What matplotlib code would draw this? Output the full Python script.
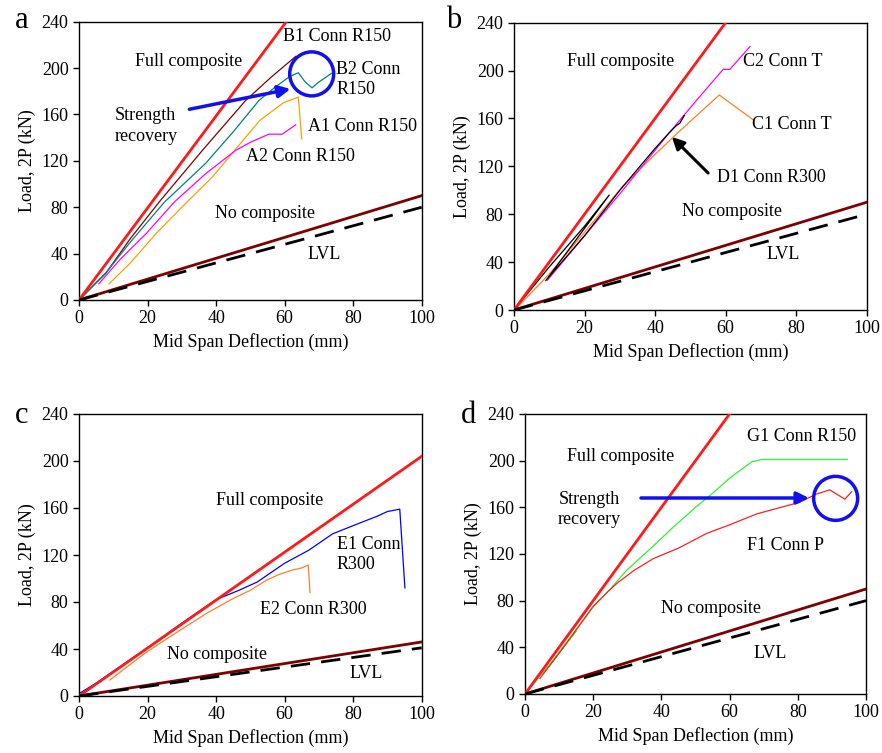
import matplotlib
matplotlib.use("Agg")
import matplotlib.pyplot as plt
from matplotlib.patches import Ellipse

plt.rcParams['font.family'] = ['Liberation Serif', 'DejaVu Serif']
plt.rcParams['font.size'] = 13

# reference lines: (x end, load at x end)
full_a = ([0, 60.5], [0, 240])
full_b = ([0, 60], [0, 240])
full_c = ([0, 100], [0, 204])
full_d = ([0, 60], [0, 240])
nocomp_abd = ([0, 100], [0, 90])
lvl_abd = ([0, 100], [0, 80])
nocomp_c = ([0, 100], [0, 46])
lvl_c = ([0, 100], [0, 41])

# panel a
a1_x = [8.8, 15, 22.4, 30, 38.9, 45.7, 52.8, 59.6, 64, 65]
a1_y = [14, 32, 57, 80, 106, 130, 155, 170, 175, 139]
a2_x = [5.8, 12, 19.5, 28, 37, 45.7, 50, 55.4, 59.3, 63.2]
a2_y = [14, 35, 57, 85, 109, 129, 136, 143, 143, 151]
b1_x = [1, 7.8, 15, 23.8, 36, 48.6, 56, 63.2]
b1_y = [3, 23, 53, 86, 129, 172, 192, 210]
b2_x = [1, 8, 15, 24.8, 37, 45, 52.5, 57, 61.4, 64, 66, 68, 70, 72, 73.7]
b2_y = [3, 24, 50, 84, 118, 145, 172, 183, 192.6, 196, 188, 183, 188, 192, 195.5]

# panel b
c1_x = [0.5, 10, 20, 31, 40, 46.8, 52, 58.2, 67.9]
c1_y = [1, 30, 65, 104, 130, 149, 163, 179.6, 158.7]
c2_x = [9.5, 20, 30, 44, 52, 59.3, 61.2, 66.9]
c2_y = [25, 62, 97, 148, 176, 201, 201, 220]
d1_x = [0, 10, 20, 27, 9, 20, 30, 40, 44, 46, 47, 48.3]
d1_y = [0, 36, 70, 96, 24.5, 62, 100, 135, 148, 154, 156, 162.5]

# panel c
e1_x = [0, 5, 10, 15, 20, 30, 40, 46.7, 52, 60, 67, 74, 80, 87, 90, 93.6, 95.1]
e1_y = [2, 11, 21, 31, 41, 62, 82, 90, 97, 113, 124, 138, 145, 153, 157, 159, 92]
e2_x = [9, 15, 20, 29.5, 37, 45, 50, 54.8, 58, 62, 65, 66.9, 67.4]
e2_y = [13.6, 27, 38, 56, 70, 83, 90, 98.7, 103, 107, 109, 111.5, 88]

# panel d
g1_x = [0, 8, 15, 5.4, 10, 15, 20, 25, 29.8, 36.2, 43.5, 50, 55, 60, 66.5, 69.4, 94.5]
g1_y = [0, 28, 54, 17.7, 35, 55, 75, 90, 106, 123, 143, 160, 172, 185, 199, 201, 201]
f1_x = [4.4, 10, 15, 20, 24.4, 27, 32, 37.6, 45, 53.3, 60, 67.9, 75, 80.2, 85.5, 89.4, 91, 93.8, 95.8]
f1_y = [13.4, 35, 55, 75, 88, 95, 106, 116, 125, 137.7, 145, 154.3, 160, 164, 171.4, 175, 172, 167, 173.4]

W, H = 882, 753
fig = plt.figure(figsize=(W / 100, H / 100), dpi=100)


def make_axes(x0, x1, ytop, ybot):
    ax = fig.add_axes([x0 / W, 1 - ybot / H, (x1 - x0) / W, (ybot - ytop) / H])
    ax.set_xlim(0, 100)
    ax.set_ylim(0, 240)
    ax.set_xticks(range(0, 101, 20))
    ax.set_yticks(range(0, 241, 40))
    ax.tick_params(direction='out', length=4, width=1, labelsize=13)
    for s in ax.spines.values():
        s.set_linewidth(1)
    ax.set_xlabel('Mid Span Deflection (mm)', fontsize=13)
    ax.set_ylabel('Load, 2P (kN)', fontsize=13)
    return ax


def ref_lines(ax, full, nocomp, lvl):
    ax.plot(*full, color='#FF1A1A', lw=2, zorder=3)
    ax.plot(*nocomp, color='#7F0000', lw=2, zorder=3)
    ax.plot(*lvl, color='black', lw=2, dashes=(7, 4), zorder=3)


def circle(ax, xc, yc, rpx=22):
    bb = ax.get_position()
    w = 2 * rpx / (bb.width * W) * 100
    h = 2 * rpx / (bb.height * H) * 240
    ax.add_patch(Ellipse((xc, yc), w, h, fill=False, ec='#1010F0', lw=2.5, zorder=5))


ax_a = make_axes(79, 421.7, 21.7, 300)
ax_b = make_axes(514, 866.7, 22.7, 310)
ax_c = make_axes(79, 421.7, 414, 696)
ax_d = make_axes(525, 866, 414, 694)

# --- a
ax = ax_a
ref_lines(ax, full_a, nocomp_abd, lvl_abd)
ax.plot(a1_x, a1_y, color='#FFA000', lw=0.9)
ax.plot(a2_x, a2_y, color='#FF00FF', lw=0.9)
ax.plot(b1_x, b1_y, color='#800000', lw=0.9)
ax.plot(b2_x, b2_y, color='#008080', lw=0.9)
circle(ax, 67.9, 195)
ax.annotate('', xy=(62.5, 182.5), xytext=(31.4, 164),
            arrowprops=dict(arrowstyle='-|>', color='#1010F0', lw=2.5, mutation_scale=18))
ax.text(31.9, 206, 'Full composite', ha='center', va='center')
ax.text(59.6, 227, 'B1 Conn R150', ha='left', va='center')
ax.text(75, 190, 'B2 Conn\nR150', ha='left', va='center', linespacing=1.25)
ax.text(19.5, 150, 'Strength\nrecovery', ha='center', va='center', linespacing=1.25)
ax.text(66.9, 150, 'A1 Conn R150', ha='left', va='center')
ax.text(48.6, 124, 'A2 Conn R150', ha='left', va='center')
ax.text(54.3, 75, 'No composite', ha='center', va='center')
ax.text(71.6, 39, 'LVL', ha='center', va='center')

# --- b
ax = ax_b
ref_lines(ax, full_b, nocomp_abd, lvl_abd)
ax.plot(c1_x, c1_y, color='#FF7F27', lw=0.9)
ax.plot(c2_x, c2_y, color='#FF00FF', lw=0.9)
ax.plot(d1_x, d1_y, color='black', lw=0.9)
ax.annotate('', xy=(44.2, 146.2), xytext=(55.6, 112.8),
            arrowprops=dict(arrowstyle='-|>', color='black', lw=2.2, mutation_scale=18))
ax.text(30.1, 208, 'Full composite', ha='center', va='center')
ax.text(65, 207.6, 'C2 Conn T', ha='left', va='center')
ax.text(67.6, 154.6, 'C1 Conn T', ha='left', va='center')
ax.text(57.5, 110.8, 'D1 Conn R300', ha='left', va='center')
ax.text(61.7, 82, 'No composite', ha='center', va='center')
ax.text(76.2, 46, 'LVL', ha='center', va='center')

# --- c
ax = ax_c
ref_lines(ax, full_c, nocomp_c, lvl_c)
ax.plot(e1_x, e1_y, color='#0000FF', lw=0.9)
ax.plot(e2_x, e2_y, color='#FF7F27', lw=0.9)
ax.text(55.5, 166, 'Full composite', ha='center', va='center')
ax.text(75.2, 120.5, 'E1 Conn\nR300', ha='left', va='center', linespacing=1.25)
ax.text(68.4, 74, 'E2 Conn R300', ha='center', va='center')
ax.text(40.2, 35.7, 'No composite', ha='center', va='center')
ax.text(83.9, 19.3, 'LVL', ha='center', va='center')

# --- d
ax = ax_d
ref_lines(ax, full_d, nocomp_abd, lvl_abd)
ax.plot(g1_x, g1_y, color='#33F033', lw=0.9)
ax.plot(f1_x, f1_y, color='#FF2020', lw=0.9)
circle(ax, 91.1, 167.7)
ax.annotate('', xy=(84.1, 168), xytext=(33.2, 168),
            arrowprops=dict(arrowstyle='-|>', color='#1010F0', lw=2.5, mutation_scale=18))
ax.text(27.9, 203.4, 'Full composite', ha='center', va='center')
ax.text(65.2, 221, 'G1 Conn R150', ha='left', va='center')
ax.text(18.9, 158, 'Strength\nrecovery', ha='center', va='center', linespacing=1.25)
ax.text(65.2, 127.7, 'F1 Conn P', ha='left', va='center')
ax.text(54.4, 73.4, 'No composite', ha='center', va='center')
ax.text(71.8, 35, 'LVL', ha='center', va='center')

# panel letters
for lab, px, py in [('a', 22, 28.3), ('b', 454, 28.3), ('c', 21.7, 423.3), ('d', 468.3, 423.3)]:
    fig.text(px / W, 1 - py / H, lab, fontsize=22, ha='center', va='baseline')

fig.savefig('out.png', dpi=100)
